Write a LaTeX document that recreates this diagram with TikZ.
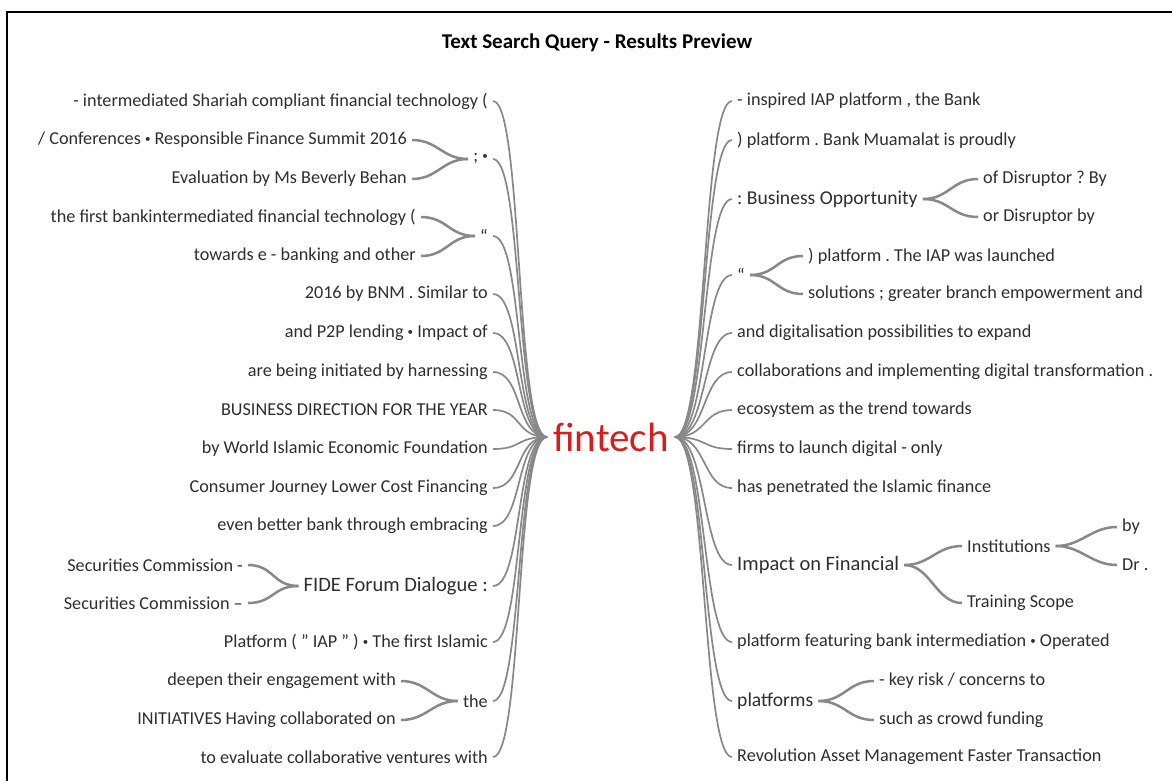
\documentclass[tikz,border=0pt]{standalone}
\usepackage{fontspec}
\setmainfont{Carlito}
\definecolor{txtc}{HTML}{2E2E2E}
\definecolor{linec}{HTML}{888888}
\definecolor{redc}{HTML}{D61E1E}
\newcommand{\smbul}{\raisebox{0.25ex}{\fontsize{11}{11}\selectfont•}}
\tikzset{
  txt/.style={text=txtc, font=\fontsize{18.2}{21}\selectfont, inner xsep=5pt, inner ysep=2pt},
  lt/.style={txt, anchor=east},
  rt/.style={txt, anchor=west},
  big/.style={font=\fontsize{20.5}{24}\selectfont},
  mid/.style={font=\fontsize{19.6}{23}\selectfont},
  conn/.style={draw=linec, line width=1.7pt},
  fork/.style={draw=linec, line width=2.5pt},
}
\begin{document}
\frenchspacing
\begin{tikzpicture}[x=1pt,y=-1pt]
\useasboundingbox (0,0) rectangle (1172,780);
\draw[line width=1.8pt] (7,781) -- (7,12) -- (1173,12);
\node[font=\bfseries\fontsize{21}{24}\selectfont] (title) at (597,43) {Text Search Query - Results Preview};
\node[text=redc, font=\fontsize{41}{44}\selectfont, inner xsep=6pt, inner ysep=0pt] (ft) at (611,437) {fintech};
% left
\node[lt] (l1) at (493,101) {- intermediated Shariah compliant financial technology (};
\node[lt] (l2) at (493,159) {; \smbul};
\node[lt] (l2a) at (412,140) {/ Conferences \smbul{} Responsible Finance Summit 2016};
\node[lt] (l2b) at (412,179) {Evaluation by Ms Beverly Behan};
\node[lt] (l3) at (493,236) {“};
\node[lt] (l3a) at (421,217) {the first bankintermediated financial technology (};
\node[lt] (l3b) at (421,256) {towards e - banking and other};
\node[lt] (l4) at (493,294) {2016 by BNM . Similar to};
\node[lt] (l5) at (493,333) {and P2P lending \smbul{} Impact of};
\node[lt] (l6) at (493,372) {are being initiated by harnessing};
\node[lt] (l7) at (493,410) {BUSINESS DIRECTION FOR THE YEAR};
\node[lt] (l8) at (493,449) {by World Islamic Economic Foundation};
\node[lt] (l9) at (493,488) {Consumer Journey Lower Cost Financing};
\node[lt] (l10) at (493,526) {even better bank through embracing};
\node[lt,big] (l11) at (493,586) {FIDE Forum Dialogue :};
\node[lt] (l11a) at (248,565) {Securities Commission -};
\node[lt] (l11b) at (248,603) {Securities Commission –};
\node[lt] (l12) at (493,642) {Platform ( " IAP " ) \smbul{} The first Islamic};
\node[lt] (l13) at (493,701) {the};
\node[lt] (l13a) at (401,681) {deepen their engagement with};
\node[lt] (l13b) at (401,720) {INITIATIVES Having collaborated on};
\node[lt] (l14) at (493,757) {to evaluate collaborative ventures with};
% right
\node[rt] (r1) at (732,101) {- inspired IAP platform , the Bank};
\node[rt] (r2) at (732,140) {) platform . Bank Muamalat is proudly};
\node[rt,mid] (r3) at (732,199) {: Business Opportunity};
\node[rt] (r3a) at (978,179) {of Disruptor ? By};
\node[rt] (r3b) at (978,217) {or Disruptor by};
\node[rt] (r4) at (732,275) {“};
\node[rt] (r4a) at (803,256) {) platform . The IAP was launched};
\node[rt] (r4b) at (803,294) {solutions ; greater branch empowerment and};
\node[rt] (r5) at (732,333) {and digitalisation possibilities to expand};
\node[rt] (r6) at (732,372) {collaborations and implementing digital transformation .};
\node[rt] (r7) at (732,410) {ecosystem as the trend towards};
\node[rt] (r8) at (732,449) {firms to launch digital - only};
\node[rt] (r9) at (732,488) {has penetrated the Islamic finance};
\node[rt,big] (r10) at (732,565) {Impact on Financial};
\node[rt] (r10a) at (962,546) {Institutions};
\node[rt] (r10aa) at (1117,527) {by};
\node[rt] (r10ab) at (1117,565) {Dr .};
\node[rt] (r10b) at (962,603) {Training Scope};
\node[rt] (r11) at (732,642) {platform featuring bank intermediation \smbul{} Operated};
\node[rt,mid] (r12) at (732,701) {platforms};
\node[rt] (r12a) at (874,681) {- key risk / concerns to};
\node[rt] (r12b) at (874,720) {such as crowd funding};
\node[rt] (r13) at (732,757) {Revolution Asset Management Faster Transaction};
% connectors from hub
\foreach \n in {l1,l2,l3,l4,l5,l6,l7,l8,l9,l10,l11,l12,l13,l14}
  \draw[conn] (ft.west) .. controls +(-32,0) and +(30,0) .. (\n.east);
\foreach \n in {r1,r2,r3,r4,r5,r6,r7,r8,r9,r10,r11,r12,r13}
  \draw[conn] (ft.east) .. controls +(32,0) and +(-30,0) .. (\n.west);
% forks
\foreach \p/\c in {l2/l2a,l2/l2b,l3/l3a,l3/l3b,l11/l11a,l11/l11b,l13/l13a,l13/l13b}
  \draw[fork] (\p.west) .. controls +(-26,0) and +(26,0) .. (\c.east);
\foreach \p/\c in {r3/r3a,r3/r3b,r4/r4a,r4/r4b,r10/r10a,r10/r10b,r10a/r10aa,r10a/r10ab,r12/r12a,r12/r12b}
  \draw[fork] (\p.east) .. controls +(26,0) and +(-26,0) .. (\c.west);
\end{tikzpicture}
\end{document}
